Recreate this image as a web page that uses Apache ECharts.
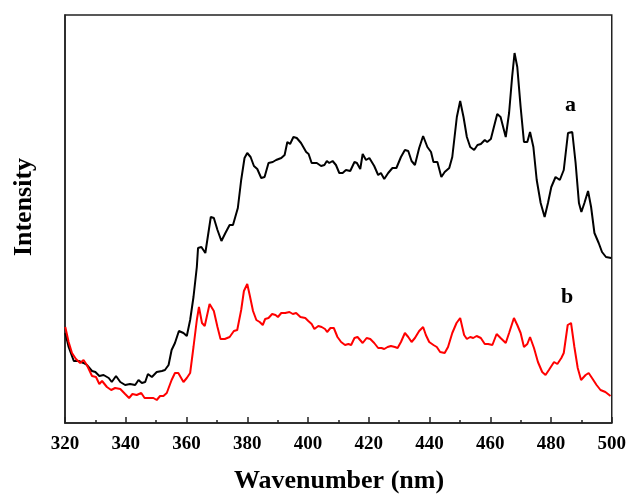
<!DOCTYPE html>
<html>
<head>
<meta charset="utf-8">
<script src="https://cdn.jsdelivr.net/npm/echarts@6/dist/echarts.min.js"></script>
<style>html,body{margin:0;padding:0;background:#fff}#c{width:629px;height:494px}</style>
</head>
<body>
<div id="c"></div>
<script>
const xTicks = [320, 340, 360, 380, 400, 420, 440, 460, 480, 500];

const wlA = [320.1,321.2,322.9,324.5,326.1,327.2,328.9,330.0,331.3,332.7,334.4,335.4,336.8,338.2,339.8,341.4,343.1,344.2,345.3,346.4,347.3,348.6,350.2,351.9,352.9,354.1,355.1,356.2,357.5,359.0,360.1,361.2,362.3,363.4,363.8,364.9,366.2,368.0,369.0,370.2,371.5,372.8,374.2,375.3,376.9,378.0,379.1,380.0,381.1,382.2,383.3,384.6,385.7,387.0,388.4,389.5,391.2,392.3,393.2,394.1,395.2,396.3,397.7,399.4,400.2,401.2,402.9,404.3,405.4,406.2,407.0,408.1,409.2,410.3,411.4,412.5,413.9,415.3,416.1,417.2,418.0,419.1,420.2,421.8,423.1,424.0,425.1,426.4,427.8,429.1,430.6,431.9,433.0,434.1,435.2,436.6,437.9,439.3,440.5,441.3,442.6,443.9,445.0,446.5,447.5,449.0,450.1,451.2,452.3,453.4,454.7,455.8,456.9,458.2,459.0,460.2,461.2,462.3,463.4,465.1,466.2,467.2,468.0,468.9,470.0,471.1,472.2,473.1,474.2,475.3,476.6,477.9,479.0,480.1,481.5,482.9,484.2,485.6,487.0,488.1,489.2,490.0,491.0,492.2,493.2,494.3,495.7,496.8,498.1,499.8];
const intA = [90,76,62,62,60,58,52,51,47,48,45,41,47,41,38,39,38,43,40,41,49,46,51,52,53,58,73,80,92,90,87,103,126,156,175,176,170,206,205,193,182,190,198,198,215,243,265,270,266,257,254,245,246,260,261,263,265,268,281,279,286,285,280,271,269,260,260,257,258,262,260,262,258,250,250,253,252,261,260,254,269,263,265,257,248,250,244,250,255,255,266,273,272,262,258,275,287,276,271,261,261,246,251,255,266,306,322,306,286,276,273,278,279,283,281,284,296,309,306,286,310,346,370,356,316,281,281,291,276,243,220,206,220,236,246,243,253,290,291,260,220,211,220,232,216,190,180,171,166,165];

const wlB = [320.1,321.2,322.3,323.6,325.0,326.1,327.2,328.9,330.2,331.3,332.2,333.8,335.2,336.5,338.2,339.8,341.1,342.2,343.6,345.1,346.2,347.7,349.1,350.2,351.3,352.4,353.5,355.1,356.2,357.3,359.0,360.1,361.2,362.3,363.4,364.1,365.1,366.0,367.6,369.0,370.2,371.2,372.6,374.2,375.6,376.7,378.0,378.9,380.0,380.8,381.9,383.0,384.1,385.1,385.9,387.0,388.2,389.3,390.1,391.2,392.5,393.9,395.0,396.1,397.5,399.1,400.1,401.2,402.1,403.4,404.5,405.6,406.3,407.4,408.5,409.7,410.9,412.2,413.3,414.2,415.3,416.3,418.0,419.3,420.5,421.8,423.1,424.2,425.1,426.2,427.3,428.6,429.5,430.6,431.9,433.0,434.1,435.2,436.6,437.9,438.8,439.9,441.3,442.4,443.5,445.0,446.1,447.5,448.9,450.1,451.4,452.3,453.4,454.4,455.5,456.9,458.2,459.3,460.7,462.1,463.4,465.1,466.2,467.8,468.9,470.0,471.1,472.2,473.1,474.4,475.7,477.1,478.2,479.3,481.0,482.1,483.4,484.2,485.5,486.6,487.7,488.8,489.9,491.4,492.4,493.5,495.0,496.3,497.9,499.6];
const intB = [96,81,70,64,60,63,58,47,46,39,42,36,33,35,34,29,25,29,28,30,25,25,25,23,27,27,30,43,50,50,41,45,50,76,103,116,100,97,119,112,96,84,84,86,92,93,113,132,139,128,112,103,101,98,104,105,109,108,106,110,110,111,109,110,106,105,102,99,94,97,96,94,91,95,95,86,81,78,79,78,85,86,80,85,84,80,75,75,74,76,77,76,75,81,90,86,81,85,92,96,88,81,78,76,71,70,76,90,100,105,88,84,86,85,87,85,79,79,78,89,85,80,90,105,98,90,76,79,86,75,61,51,48,53,61,59,65,70,98,100,76,55,43,48,50,45,38,33,31,27];

const seriesNames = ['a', 'b'];
const labelPos = [[486.4, 318], [485.3, 126]];

const pairs = (xs, ys) => xs.map((x, i) => [x, ys[i]]);
const serif = '"Liberation Serif", "Times New Roman", serif';

const chart = echarts.init(document.getElementById('c'));
chart.setOption({
  animation: false,
  backgroundColor: '#fff',
  grid: { left: 65, right: 16, top: 15, bottom: 71, show: true, borderColor: '#222', borderWidth: 1.5, backgroundColor: 'transparent' },
  xAxis: {
    type: 'value', min: xTicks[0], max: xTicks[xTicks.length - 1], interval: 20,
    axisLine: { show: true, lineStyle: { color: '#222', width: 1.5 } },
    axisTick: { show: true, inside: true, length: 6, lineStyle: { color: '#222', width: 1.5 } },
    minorTick: { show: true, splitNumber: 2, length: 3, lineStyle: { color: '#222', width: 1.5 } },
    splitLine: { show: false },
    axisLabel: { color: '#000', fontFamily: serif, fontWeight: 'bold', fontSize: 19, margin: 12 }
  },
  yAxis: {
    type: 'value', min: 0, max: 408,
    axisLine: { show: true, lineStyle: { color: '#222', width: 1.5 } },
    axisTick: { show: false }, axisLabel: { show: false }, splitLine: { show: false }
  },
  series: [
    { name: seriesNames[0], type: 'line', data: pairs(wlA, intA), showSymbol: false, symbol: 'none',
      lineStyle: { color: '#000', width: 2 }, itemStyle: { color: '#000' },
      markPoint: { symbol: 'circle', symbolSize: 1, itemStyle: { color: 'transparent' },
        label: { show: true, position: 'inside', formatter: seriesNames[0], color: '#000', fontFamily: serif, fontWeight: 'bold', fontSize: 22 },
        data: [{ coord: labelPos[0] }] } },
    { name: seriesNames[1], type: 'line', data: pairs(wlB, intB), showSymbol: false, symbol: 'none',
      lineStyle: { color: '#ff0000', width: 2 }, itemStyle: { color: '#ff0000' },
      markPoint: { symbol: 'circle', symbolSize: 1, itemStyle: { color: 'transparent' },
        label: { show: true, position: 'inside', formatter: seriesNames[1], color: '#000', fontFamily: serif, fontWeight: 'bold', fontSize: 22 },
        data: [{ coord: labelPos[1] }] } }
  ],
  graphic: [
    { type: 'text', style: { x: 339, y: 481, text: 'Wavenumber (nm)', textAlign: 'center', textVerticalAlign: 'middle', fill: '#000', font: 'bold 26px ' + serif } },
    { type: 'text', x: 24, y: 207, rotation: Math.PI / 2, style: { x: 0, y: 0, text: 'Intensity', textAlign: 'center', textVerticalAlign: 'middle', fill: '#000', font: 'bold 26px ' + serif } }
  ]
});
</script>
</body>
</html>
